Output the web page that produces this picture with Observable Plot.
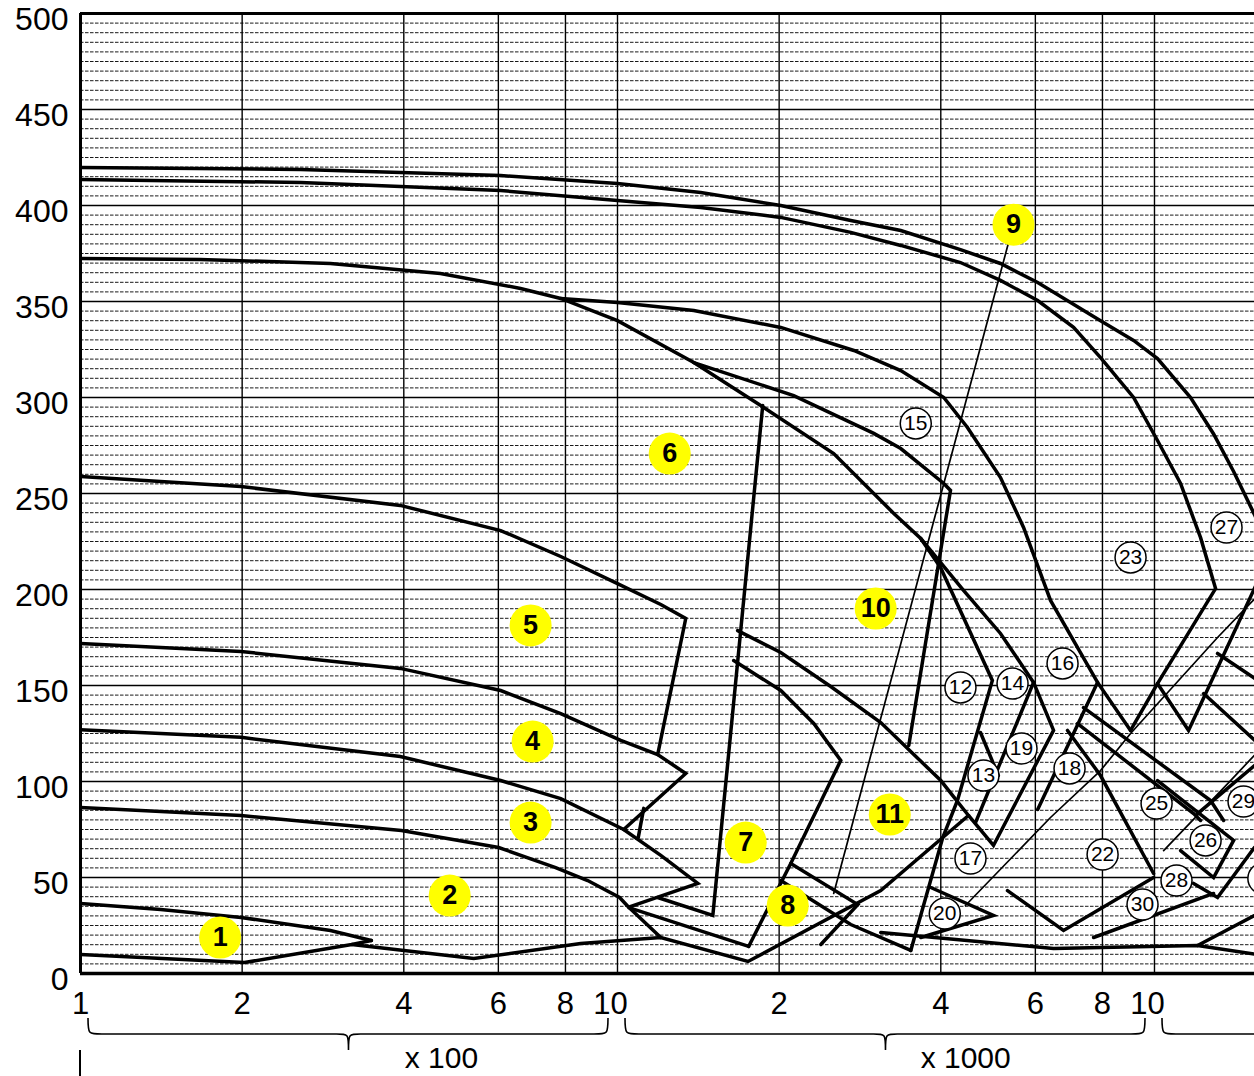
<!DOCTYPE html>
<html><head><meta charset="utf-8">
<script src="https://cdn.jsdelivr.net/npm/d3@7"></script>
<script src="https://cdn.jsdelivr.net/npm/@observablehq/plot@0.6"></script>
<style>body{margin:0;background:#fff}svg{display:block}</style>
</head><body><div id="chart"></div>
<script>
// ---------- axis data ----------
const xTicks = [100,200,400,600,800,2000,4000,6000,8000];
const xTickLabels = ["1","2","4","6","8","2","4","6","8"];
const xDecadeTicks = [1000,10000];
const xDecadeTickLabels = ["10","10"];
const xGrid = [200,400,600,800,1000,2000,4000,6000,8000,10000];
const yTicks = [0,50,100,150,200,250,300,350,400,450,500];
const decades = [[100,1000],[1000,10000],[10000,100000]];
const decadeLabels = ["x 100","x 1000"];
const decadeLabelQ = [470,4450];

// ---------- envelope curves [flow, head] ----------
const P1_top = [[100,36.5],[141,33.3],[199,29.2],[292,22.4],[348,17.2]];
const P1_bottom = [[100,9.9],[202,5.7],[320,15.1],[348,17.2]];
const P2_bottom = [[320,15.1],[540,7.8],[854,15.6],[1204,18.75],[1750,6.25],[3092,43.2],[4504,82.3]];
const P2_top = [[100,86.5],[199,82.3],[396,74.5],[601,65.6],[767,55.2],[880,48.4],[1009,39.6],[1046,34.9],[1204,18.75]];
const P3_top = [[100,127],[199,123],[394,113],[606,100.5],[784,91.1],[1027,75],[1204,61.5],[1411,46.9],[1046,34.4],[1755,14.1]];
const P7_edge = [[1188,39.6],[1505,30.2],[1864,295.8]];
const P4_top = [[100,171.9],[199,167.7],[394,158.9],[606,147.4],[784,135.4],[1014,121.4],[1188,114],[1340,104.2],[1027,75]];
const P4_stub = [[1119,86],[1093,70.8]];
const P5_top = [[100,258.9],[199,253.6],[394,243.8],[606,230.7],[784,217.2],[1000,203.1],[1204,192.2],[1340,184.9],[1188,114]];
const P6_top = [[100,372.4],[167,371.9],[292,369.8],[468,364.6],[660,356.8],[784,351.6],[1000,340],[1387,318.2],[1848,295.8],[2527,270.8],[3270,239.6],[3670,226.6],[3995,211.5],[4990,152.6],[4296,90.1],[4034,70.8],[3517,12]];
const U_upper = [[784,351.6],[1000,349.5],[1387,345.3],[2014,336.5],[2755,324.5],[3369,314],[4052,300],[4484,284.4],[5167,258.3],[5704,232.3],[6403,194.3],[7833,151.6],[9025,126.6]];
const U_middle = [[1387,318.2],[2129,301],[3001,281.3],[3369,273.4],[4052,255.2],[4170,251.6],[3487,118.75]];
const X_curve = [[3670,226.6],[4409,199.5],[5167,177.1],[5954,151.6]];
const T1 = [[100,419.8],[257,418.8],[606,415.6],[1000,411.5],[1429,406.8],[2014,400],[2719,392.2],[3369,387],[4352,377],[5167,369.8],[6060,359.9],[7935,340],[9143,329.7],[10130,320.3],[11673,300],[12885,281],[14040,261.5],[15355,239],[16450,220]];
const T2 = [[100,413.5],[257,412],[606,407.8],[1000,402.6],[1429,398.9],[2014,393.8],[2719,386],[3369,379.2],[4352,370.3],[5167,361],[6060,350.5],[7068,336.5],[7935,320.8],[9143,300],[10130,277.6],[11183,255.2],[12185,227],[12995,200.5],[10130,151],[9025,126.6]];
const R2 = [[10130,151],[11572,126.6],[16220,215]];
const C10_top = [[1674,178.6],[2014,167.2],[2495,149.5],[3092,130.7],[4000,100.5],[4504,82.3],[5014,66.7],[6487,126.6],[5954,151.6]];
const D2 = [[5954,151.6],[4642,78.6]];
const C7b = [[1646,163],[2014,147.4],[2320,130.2],[2605,111],[2102,57.3],[1755,14.1]];
const P8 = [[2102,57.3],[2802,35.9],[2391,15.1]];
const P8b = [[2014,48.4],[2719,25.5],[3517,12]];
const T20 = [[3832,44.8],[5014,30.2],[3671,18.75]];
const Bottom = [[3092,21.4],[6487,13],[12030,14.6],[16000,9.4]];
const BR1 = [[12030,14.6],[16000,32.8]];
const V22 = [[5325,43.2],[6771,22.4],[9961,50]];
const L18 = [[6887,126.6],[7935,103.1],[9961,52.1]];
const L16b = [[7833,151.6],[6060,85.4]];
const L25a = [[7377,138.5],[12719,90.1],[13450,79.7]];
const L25b = [[7189,130.2],[11826,83.3],[12185,79.7]];
const D26 = [[10130,100.5],[14040,69.3],[12885,50],[11183,64]];
const L28 = [[11826,46.9],[13105,39.6],[15350,65.6]];
const L30 = [[7701,18.75],[12885,41.7]];
const R3 = [[13105,166.7],[16000,150.5]];
const R4 = [[12343,145.8],[16000,117]];
const R5 = [[16000,112.5],[12030,83.3]];
const S13 = [[4742,125.5],[5120,103.1]];
// thin lines
const Line9 = [[5349,380.7],[2527,41.7]];
const TL1 = [[15761,198.4],[13105,175],[9025,125],[7935,105.7],[6403,81.25],[4446,35.4]];
const Thin26 = [[10400,64],[13858,100.5],[16000,119]];

// ---------- labels ----------
const yellowNames = ["1","2","3","4","5","6","7","8","9","10","11"];
const yellowQ = [182,487,689,695,689,1251,1733,2075,5464,3026,3214];
const yellowH = [18.75,40.6,78.6,120.8,181.3,270.8,68.2,35.4,390,190.1,82.8];
const circNames = ["12","13","14","15","16","17","18","19","20","22","23","25","26","27","28","29","30"];
const circQ = [4352,4803,5441,3593,6742,4543,6947,5654,4069,8005,9025,10090,12450,13620,10990,14650,9500];
const circH = [149,103.1,151,286.5,161.5,59.9,106.8,117.2,31.25,62,216.7,88.5,69.3,232.3,48.4,89.6,35.9];
const edgeCircleQ = [15950];
const edgeCircleH = [49.5];

const thick = {P1_top,P1_bottom,P2_bottom,P2_top,P3_top,P7_edge,P4_top,P4_stub,P5_top,P6_top,U_upper,U_middle,X_curve,T1,T2,R2,C10_top,D2,C7b,P8,P8b,T20,Bottom,BR1,V22,L18,L16b,L25a,L25b,D26,L28,L30,R3,R4,R5,S13};
const thin = {Line9,TL1,Thin26};
const toRows = obj => Object.entries(obj).flatMap(([id,pts]) => pts.map(([q,h]) => ({id,q,h})));
const thickRows = toRows(thick), thinRows = toRows(thin);
const yellow = yellowNames.map((n,i)=>({n,q:yellowQ[i],h:yellowH[i]}));
const circ = circNames.map((n,i)=>({n,q:circQ[i],h:circH[i]}));
const edgeCirc = edgeCircleQ.map((q,i)=>({q,h:edgeCircleH[i]}));
const minorY = d3.range(5,500,5).filter(v=>v%50!==0);
const majorY = yTicks.filter(v=>v>0 && v<500);

const FONT = "'Liberation Sans', Arial, Helvetica, sans-serif";
const NARROW = "'Liberation Sans Narrow', 'Liberation Sans', Arial, sans-serif";

const plot = Plot.plot({
  width:1254, height:1076,
  marginLeft:80, marginRight:0, marginTop:13, marginBottom:103,
  x:{type:"log", domain:[100,15355], axis:null},
  y:{domain:[0,500], axis:null},
  style:{background:"#fff", fontFamily:FONT},
  marks:[
    Plot.ruleY(minorY,{stroke:"#000",strokeWidth:1,strokeDasharray:"3.5,1.5",strokeOpacity:0.9}),
    Plot.ruleY(majorY,{stroke:"#000",strokeWidth:1.6}),
    Plot.ruleX(xGrid,{stroke:"#000",strokeWidth:1.4}),
    Plot.line(thinRows,{x:"q",y:"h",z:"id",stroke:"#000",strokeWidth:1.7,clip:true}),
    Plot.line(thickRows,{x:"q",y:"h",z:"id",stroke:"#000",strokeWidth:3.5,strokeLinejoin:"miter",strokeMiterlimit:3,clip:true}),
    Plot.ruleY([500],{stroke:"#000",strokeWidth:3}),
    Plot.ruleY([0],{stroke:"#000",strokeWidth:3.5}),
    Plot.ruleX([100],{stroke:"#000",strokeWidth:3}),
    Plot.dot(yellow,{x:"q",y:"h",r:21,fill:"#ffff00",stroke:null}),
    Plot.text(yellow,{x:"q",y:"h",text:"n",fontSize:27,fontWeight:"bold",fill:"#000",fontFamily:FONT}),
    Plot.dot(circ,{x:"q",y:"h",r:15.5,fill:"#fff",stroke:"#000",strokeWidth:1.5}),
    Plot.dot(edgeCirc,{x:"q",y:"h",r:15.5,fill:"#fff",stroke:"#000",strokeWidth:1.5}),
    Plot.text(circ,{x:"q",y:"h",text:"n",fontSize:21,fill:"#000",fontFamily:NARROW}),
    Plot.text(yTicks,{y:d=>d,frameAnchor:"left",textAnchor:"end",dx:-12,dy:6,text:d=>String(d),fontSize:32,fill:"#000"}),
    Plot.text(xTicks,{x:d=>d,frameAnchor:"bottom",dy:40,text:(d,i)=>xTickLabels[i],fontSize:31,fill:"#000"}),
    Plot.text(xDecadeTicks,{x:d=>d,frameAnchor:"bottom",dy:40,dx:-7,text:(d,i)=>xDecadeTickLabels[i],fontSize:31,fill:"#000"}),
    Plot.text(decadeLabels,{x:(d,i)=>decadeLabelQ[i],frameAnchor:"bottom",dy:94,text:d=>d,fontSize:30,fill:"#000",fontFamily:NARROW})
  ]
});

// braces under the x axis
const sx = plot.scale("x");
const svg = d3.select(plot);
const yTop = 1018, yMid = 1034, yTip = 1050;
decades.forEach(([a,b]) => {
  const x0 = sx.apply(a)+8, x1 = sx.apply(b)-9, xt = sx.apply(Math.sqrt(a*b));
  const p = `M${x0},${yTop} C${x0},${yMid} ${x0},${yMid} ${x0+14},${yMid} L${xt-12},${yMid} C${xt},${yMid} ${xt},${yMid} ${xt},${yTip} C${xt},${yMid} ${xt},${yMid} ${xt+12},${yMid} L${x1-14},${yMid} C${x1},${yMid} ${x1},${yMid} ${x1},${yTop}`;
  svg.append("path").attr("d",p).attr("fill","none").attr("stroke","#000").attr("stroke-width",1.6);
});
const x100 = sx.apply(100);
svg.append("line").attr("x1",x100).attr("x2",x100).attr("y1",1050).attr("y2",1076).attr("stroke","#000").attr("stroke-width",2);

document.getElementById("chart").appendChild(plot);
</script>
</body></html>
